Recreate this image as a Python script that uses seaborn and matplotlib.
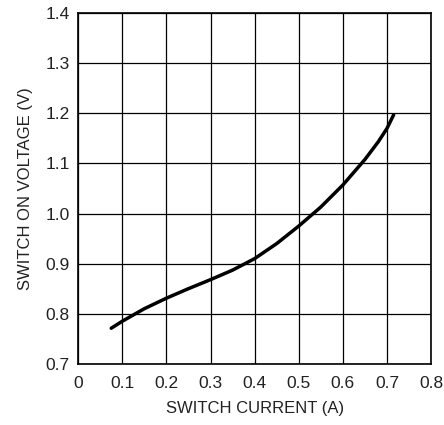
import seaborn as sns
import matplotlib.pyplot as plt
import pandas as pd

# Switch current (A) vs switch on voltage (V)
current = [0.075, 0.10, 0.15, 0.20, 0.25, 0.30, 0.35, 0.40, 0.45, 0.50,
           0.55, 0.60, 0.65, 0.68, 0.70, 0.715]
voltage = [0.771, 0.785, 0.810, 0.831, 0.850, 0.868, 0.887, 0.910, 0.940, 0.975,
           1.013, 1.057, 1.108, 1.143, 1.170, 1.197]

x_ticks = [0, 0.1, 0.2, 0.3, 0.4, 0.5, 0.6, 0.7, 0.8]
y_ticks = [0.7, 0.8, 0.9, 1.0, 1.1, 1.2, 1.3, 1.4]
x_labels = ['0', '0.1', '0.2', '0.3', '0.4', '0.5', '0.6', '0.7', '0.8']
y_labels = ['0.7', '0.8', '0.9', '1.0', '1.1', '1.2', '1.3', '1.4']

data = pd.DataFrame({'current': current, 'voltage': voltage})

sns.set_style('white')
plt.rcParams['font.family'] = ['Liberation Sans', 'DejaVu Sans']

fig, ax = plt.subplots(figsize=(4.44, 4.25), dpi=100)
fig.subplots_adjust(left=0.176, right=0.971, bottom=0.144, top=0.969)

sns.lineplot(data=data, x='current', y='voltage', color='black', linewidth=2.5,
             estimator=None, sort=False, ax=ax, zorder=3)

ax.set_xlim(0, 0.8)
ax.set_ylim(0.7, 1.4)
ax.set_xticks(x_ticks)
ax.set_xticklabels(x_labels)
ax.set_yticks(y_ticks)
ax.set_yticklabels(y_labels)
ax.grid(True, color='black', linewidth=0.9)
ax.tick_params(axis='x', length=0, labelsize=12.5, colors='#222222', pad=9)
ax.tick_params(axis='y', length=0, labelsize=12.5, colors='#222222', pad=6)
for spine in ax.spines.values():
    spine.set_color('black')
    spine.set_linewidth(1.2)

ax.set_xlabel('SWITCH CURRENT (A)', fontsize=12, color='#222222', labelpad=7)
ax.set_ylabel('SWITCH ON VOLTAGE (V)', fontsize=12, color='#222222', labelpad=9)

plt.savefig('out.png', dpi=100)
plt.close()
